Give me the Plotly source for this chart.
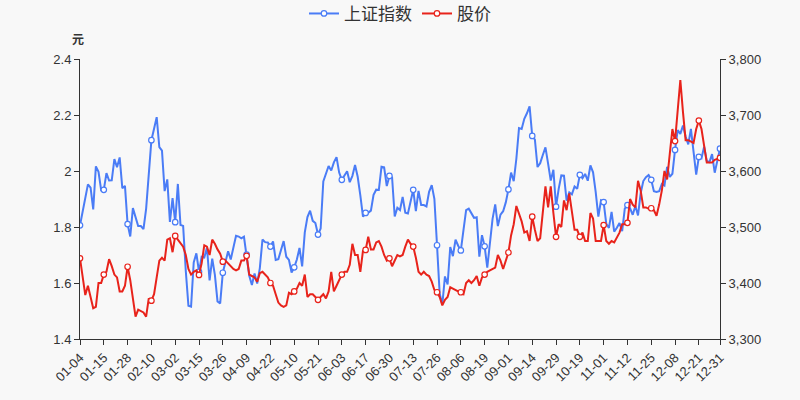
import plotly.graph_objects as go

# ---- data ----
trading_days = {
    1: [4, 5, 6, 7, 8, 11, 12, 13, 14, 15, 18, 19, 20, 21, 22, 25, 26, 27, 28, 29],
    2: [1, 2, 3, 4, 5, 8, 9, 10, 18, 19, 22, 23, 24, 25, 26],
    3: [1, 2, 3, 4, 5, 8, 9, 10, 11, 12, 15, 16, 17, 18, 19, 22, 23, 24, 25, 26, 29, 30, 31],
    4: [1, 2, 6, 7, 8, 9, 12, 13, 14, 15, 16, 19, 20, 21, 22, 23, 26, 27, 28, 29, 30],
    5: [6, 7, 10, 11, 12, 13, 14, 17, 18, 19, 20, 21, 24, 25, 26, 27, 28, 31],
    6: [1, 2, 3, 4, 7, 8, 9, 10, 11, 15, 16, 17, 18, 21, 22, 23, 24, 25, 28, 29, 30],
    7: [1, 2, 5, 6, 7, 8, 9, 12, 13, 14, 15, 16, 19, 20, 21, 22, 23, 26, 27, 28, 29, 30],
    8: [2, 3, 4, 5, 6, 9, 10, 11, 12, 13, 16, 17, 18, 19, 20, 23, 24, 25, 26, 27, 30, 31],
    9: [1, 2, 3, 6, 7, 8, 9, 10, 13, 14, 15, 16, 17, 22, 23, 24, 27, 28, 29, 30],
    10: [8, 11, 12, 13, 14, 15, 18, 19, 20, 21, 22, 25, 26, 27, 28, 29],
    11: [1, 2, 3, 4, 5, 8, 9, 10, 11, 12, 15, 16, 17, 18, 19, 22, 23, 24, 25, 26, 29, 30],
    12: [1, 2, 3, 6, 7, 8, 9, 10, 13, 14, 15, 16, 17, 20, 21, 22, 23, 24, 27, 28, 29, 30, 31],
}
dates = [f"{m:02d}-{d:02d}" for m, days in trading_days.items() for d in days]

sse_index = [
    3502.96, 3528.68, 3550.88, 3576.20, 3570.11, 3531.50, 3608.34, 3598.65, 3565.90, 3566.38,
    3596.22, 3583.09, 3583.35, 3621.26, 3606.75, 3624.24, 3569.43, 3573.34, 3505.18, 3483.07,
    3533.68, 3517.31, 3501.86, 3501.67, 3496.33, 3532.44, 3603.49, 3655.09, 3675.36, 3696.17,
    3642.44, 3636.36, 3564.08, 3585.05, 3509.08,
    3551.40, 3508.59, 3576.90, 3503.49, 3501.99, 3421.41, 3359.29, 3357.74, 3436.83, 3453.08,
    3419.95, 3446.73, 3445.55, 3463.07, 3404.66, 3443.44, 3414.37, 3367.06, 3363.59, 3418.33,
    3435.30, 3456.68, 3441.91,
    3466.33, 3484.39, 3482.97, 3479.63, 3482.55, 3450.68, 3412.95, 3396.47, 3416.85, 3398.99,
    3426.62, 3477.55, 3472.94, 3472.31, 3465.11, 3474.17, 3441.17, 3442.61, 3457.07, 3474.90,
    3446.86,
    3441.28, 3418.87, 3427.99, 3441.85, 3462.75, 3429.54, 3490.38, 3517.62, 3529.01, 3510.96,
    3506.94, 3486.56, 3497.28, 3581.34, 3593.36, 3608.85, 3600.78, 3615.48,
    3624.71, 3597.14, 3584.22, 3591.84, 3599.54, 3580.11, 3591.40, 3610.86, 3589.75, 3556.56,
    3518.33, 3525.10, 3525.60, 3529.18, 3557.41, 3566.65, 3566.22, 3607.56, 3606.37, 3573.18,
    3591.20,
    3588.78, 3518.76, 3534.32, 3530.26, 3553.72, 3525.50, 3524.09, 3547.84, 3566.39, 3528.50,
    3564.59, 3539.30, 3539.12, 3536.79, 3562.70, 3574.73, 3550.40, 3467.44, 3381.18, 3361.59,
    3411.72, 3397.36,
    3464.29, 3447.99, 3477.22, 3466.56, 3458.23, 3494.63, 3529.93, 3532.62, 3524.74, 3516.30,
    3517.34, 3446.98, 3485.29, 3465.55, 3427.33, 3477.13, 3514.47, 3540.38, 3501.66, 3522.16,
    3528.15, 3543.94,
    3567.10, 3597.04, 3581.73, 3621.86, 3676.59, 3675.19, 3693.13, 3703.11, 3715.37, 3662.60,
    3656.22, 3607.09, 3613.97, 3628.49, 3642.22, 3613.07, 3582.83, 3602.22, 3536.29, 3568.17,
    3592.17, 3591.71, 3546.94, 3561.76, 3558.28, 3572.37, 3568.14, 3593.15, 3587.00, 3594.78,
    3582.60, 3609.86, 3597.64, 3562.31, 3518.42, 3547.34,
    3544.48, 3505.63, 3498.54, 3526.87, 3491.57, 3498.63, 3507.00, 3492.46, 3532.79, 3539.10,
    3533.30, 3521.79, 3537.37, 3520.71, 3560.37, 3582.08, 3589.09, 3592.70, 3584.18, 3564.09,
    3562.70, 3563.89,
    3576.89, 3573.84, 3607.43, 3589.31, 3595.09, 3637.57, 3673.04, 3666.35, 3681.08, 3661.53,
    3647.63, 3675.02, 3632.36, 3593.60, 3625.13, 3622.62, 3643.34, 3618.05, 3615.97, 3630.11,
    3597.00, 3619.19, 3639.78,
]

stock_price = [
    1.688, 1.62, 1.557, 1.59, 1.555, 1.51, 1.515, 1.60, 1.60, 1.63,
    1.64, 1.685, 1.66, 1.63, 1.62, 1.57, 1.57, 1.59, 1.658, 1.61,
    1.545, 1.48, 1.505, 1.50, 1.495, 1.48, 1.545, 1.537, 1.56, 1.62,
    1.68, 1.69, 1.68, 1.755, 1.76, 1.71, 1.768, 1.755, 1.74, 1.73,
    1.70, 1.65, 1.63, 1.64, 1.645, 1.629, 1.67, 1.735, 1.73, 1.70,
    1.755, 1.74, 1.72, 1.705, 1.676, 1.68, 1.67, 1.66, 1.65, 1.645,
    1.65, 1.68, 1.68, 1.697, 1.63, 1.625, 1.62, 1.605, 1.635, 1.64,
    1.63, 1.62, 1.60, 1.59, 1.56, 1.53, 1.52, 1.515, 1.52, 1.565,
    1.56, 1.57, 1.58, 1.60, 1.59, 1.63, 1.55, 1.56, 1.56, 1.55,
    1.54, 1.55, 1.56, 1.545, 1.57, 1.64, 1.57, 1.59, 1.61, 1.63,
    1.64, 1.64, 1.665, 1.74, 1.70, 1.70, 1.64, 1.715, 1.718, 1.765,
    1.72, 1.72, 1.745, 1.75, 1.73, 1.70, 1.68, 1.688, 1.66, 1.68,
    1.70, 1.695, 1.70, 1.73, 1.755, 1.74, 1.73, 1.69, 1.64, 1.63,
    1.64, 1.63, 1.625, 1.605, 1.575, 1.567, 1.55, 1.52, 1.54, 1.55,
    1.585, 1.58, 1.575, 1.57, 1.567, 1.56, 1.60, 1.61, 1.60, 1.61,
    1.625, 1.59, 1.62, 1.63, 1.64, 1.645, 1.65, 1.655, 1.70, 1.68,
    1.65, 1.68, 1.709, 1.77, 1.81, 1.875, 1.85, 1.82, 1.78, 1.785,
    1.75, 1.837, 1.79, 1.75, 1.76, 1.85, 1.945, 1.87, 1.945, 1.85,
    1.765, 1.81, 1.80, 1.895, 1.86, 1.92, 1.86, 1.79, 1.79, 1.765,
    1.78, 1.75, 1.75, 1.85, 1.83, 1.75, 1.75, 1.75, 1.807, 1.75,
    1.74, 1.75, 1.745, 1.765, 1.78, 1.81, 1.81, 1.815, 1.90, 1.88,
    1.87, 1.965, 1.93, 1.87, 1.87, 1.865, 1.867, 1.86, 1.84, 1.88,
    1.93, 2.00, 1.97, 2.06, 2.15, 2.107, 2.23, 2.325, 2.21, 2.11,
    2.11, 2.105, 2.10, 2.15, 2.18, 2.15, 2.09, 2.03, 2.03, 2.03,
    2.04, 2.045, 2.047,
]

# ---- layout helpers ----
label_step = 9
tick_idx = list(range(0, len(dates), label_step))
if tick_idx[-1] != len(dates) - 1:
    tick_idx.append(len(dates) - 1)
tick_labels = [dates[i] for i in tick_idx]

BLUE = "#4a7cf6"
RED = "#e8231b"
AXIS = "#333333"

fig = go.Figure()

def add_series(values, name, color, yaxis):
    fig.add_trace(go.Scatter(
        x=dates, y=values, name=name, yaxis=yaxis,
        mode="lines+markers",
        line=dict(color=color, width=2),
        marker=dict(symbol="circle", size=5.5, color="white",
                    line=dict(color=color, width=1.2)),
        selectedpoints=tick_idx,
        selected=dict(marker=dict(opacity=1)),
        unselected=dict(marker=dict(opacity=0)),
        hoverinfo="skip",
    ))

add_series(sse_index, "上证指数", BLUE, "y")
add_series(stock_price, "股价", RED, "y2")

fig.update_layout(
    width=800, height=400,
    margin=dict(l=80, r=80, t=59, b=61, autoexpand=False),
    paper_bgcolor="#f8f8f8", plot_bgcolor="#f8f8f8",
    font=dict(family="Liberation Sans, Noto Sans CJK SC, sans-serif", size=12, color=AXIS),
    showlegend=True,
    legend=dict(orientation="h", x=0.5, xanchor="center", y=1.161, yanchor="middle",
                font=dict(size=17, color=AXIS, family="Noto Sans CJK SC, sans-serif"),
                itemwidth=30, bgcolor="rgba(0,0,0,0)"),
    xaxis=dict(
        type="category", range=[0, len(dates) - 1],
        tickmode="array", tickvals=tick_labels, ticktext=tick_labels,
        tickangle=-45, ticks="outside", ticklen=5, tickcolor=AXIS,
        showline=True, linecolor=AXIS, linewidth=1,
        showgrid=False, zeroline=False, anchor="y",
        tickfont=dict(size=13, color=AXIS),
    ),
    yaxis=dict(
        side="right", range=[3300, 3800], dtick=100, tickformat=",",
        ticks="outside", ticklen=5, tickcolor=AXIS,
        showline=True, linecolor=AXIS, linewidth=1,
        showgrid=False, zeroline=False,
        tickfont=dict(size=13, color=AXIS),
    ),
    yaxis2=dict(
        side="left", overlaying="y", range=[1.4, 2.4], dtick=0.2,
        ticks="outside", ticklen=5, tickcolor=AXIS,
        showline=True, linecolor=AXIS, linewidth=1,
        showgrid=False, zeroline=False,
        tickfont=dict(size=13, color=AXIS),
    ),
    annotations=[dict(
        text="<b>元</b>", xref="paper", yref="paper", x=-0.003, y=1.075,
        xanchor="center", yanchor="middle", showarrow=False,
        font=dict(size=12, color=AXIS, family="Noto Sans CJK SC, sans-serif"),
    )],
)

fig.write_html(
    "out.html",
    config={"displayModeBar": False},
    post_script="document.body.style.margin='0';document.body.style.background='#f8f8f8';",
)
